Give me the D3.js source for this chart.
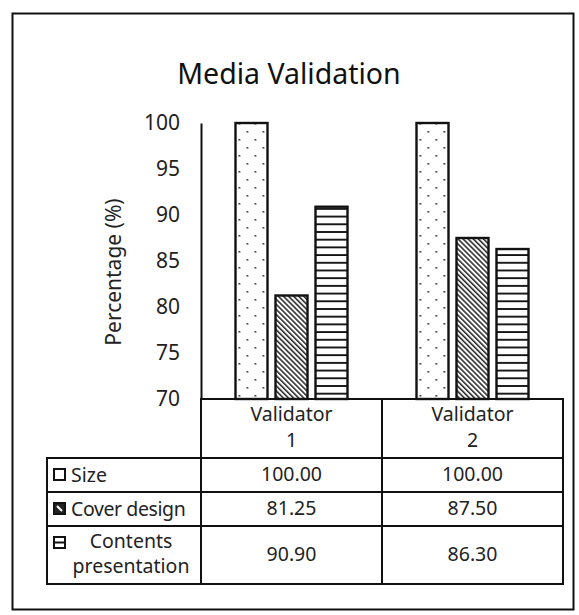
<!DOCTYPE html>
<html>
<head>
<meta charset="utf-8">
<script src="https://cdn.jsdelivr.net/npm/d3@7"></script>
<style>
  html, body { margin: 0; padding: 0; background: #fff; }
  svg { display: block; font-family: "Noto Sans", "Open Sans", sans-serif; }
</style>
</head>
<body>
<svg id="chart" width="579" height="615"></svg>
<script>
// Data
const categories = ["Validator 1", "Validator 2"];
const seriesNames = ["Size", "Cover design", "Contents presentation"];
const sizeValues = [100.00, 100.00];
const coverValues = [81.25, 87.50];
const contentsValues = [90.90, 86.30];
const yTicks = [70, 75, 80, 85, 90, 95, 100];

const seriesValues = [sizeValues, coverValues, contentsValues];
const patternIds = ["pat-dots", "pat-diag", "pat-horiz"];

const svg = d3.select("#chart");
const defs = svg.append("defs");

// Fill patterns
const dots = defs.append("pattern").attr("id", "pat-dots")
  .attr("patternUnits", "userSpaceOnUse").attr("width", 16).attr("height", 16);
dots.append("rect").attr("width", 16).attr("height", 16).attr("fill", "#fff");
dots.append("rect").attr("x", 3).attr("y", 3).attr("width", 1.6).attr("height", 1.6).attr("fill", "#222");
dots.append("rect").attr("x", 11).attr("y", 11).attr("width", 1.6).attr("height", 1.6).attr("fill", "#222");

const diag = defs.append("pattern").attr("id", "pat-diag")
  .attr("patternUnits", "userSpaceOnUse").attr("width", 3.6).attr("height", 10)
  .attr("patternTransform", "rotate(-45)");
diag.append("rect").attr("width", 3.6).attr("height", 10).attr("fill", "#fff");
diag.append("line").attr("x1", 0.8).attr("y1", 0).attr("x2", 0.8).attr("y2", 10)
  .attr("stroke", "#111").attr("stroke-width", 1.4);

const horiz = defs.append("pattern").attr("id", "pat-horiz")
  .attr("patternUnits", "userSpaceOnUse").attr("width", 10).attr("height", 7.7);
horiz.append("rect").attr("width", 10).attr("height", 7.7).attr("fill", "#fff");
horiz.append("line").attr("x1", 0).attr("y1", 1).attr("x2", 10).attr("y2", 1)
  .attr("stroke", "#111").attr("stroke-width", 1.9);

// Outer frame
svg.append("rect").attr("x", 12.5).attr("y", 13.5).attr("width", 561).attr("height", 596)
  .attr("fill", "#fff").attr("stroke", "#111").attr("stroke-width", 2);

// Title
svg.append("text").attr("x", 289).attr("y", 84).attr("text-anchor", "middle")
  .attr("font-size", 28.5).attr("fill", "#111").text("Media Validation");

// Scales
const plotLeft = 201, plotRight = 563, plotTop = 123, plotBottom = 399;
const y = d3.scaleLinear().domain([70, 100]).range([plotBottom, plotTop]);
const x0 = d3.scaleBand().domain(categories).range([plotLeft, plotRight]);
const x1 = d3.scaleBand().domain(seriesNames).range([-60, 60]).paddingInner(0.2).paddingOuter(0.1);

// Y axis
const yAxis = d3.axisLeft(y).tickValues(yTicks).tickSize(0).tickPadding(21);
const gy = svg.append("g").attr("transform", `translate(${plotLeft},0)`).call(yAxis);
gy.select(".domain").attr("stroke", "#111").attr("stroke-width", 2);
gy.selectAll("text").attr("font-size", 21).attr("fill", "#222")
  .attr("font-family", "\"Noto Sans\", sans-serif");

// Y axis title
svg.append("text")
  .attr("transform", `translate(121,272) rotate(-90)`)
  .attr("text-anchor", "middle").attr("font-size", 21).attr("fill", "#222")
  .text("Percentage (%)");

// Bars
const groups = svg.append("g").selectAll("g").data(categories).join("g")
  .attr("transform", d => `translate(${x0(d) + x0.bandwidth() / 2},0)`);
groups.selectAll("rect")
  .data((c, ci) => seriesNames.map((s, si) => ({ s, si, v: seriesValues[si][ci] })))
  .join("rect")
  .attr("x", d => x1(d.s))
  .attr("y", d => y(d.v))
  .attr("width", x1.bandwidth())
  .attr("height", d => y(70) - y(d.v))
  .attr("fill", d => `url(#${patternIds[d.si]})`)
  .attr("stroke", "#111").attr("stroke-width", 2.4);

// Data table
const tableLeft = 47;
const rowEdges = [399, 458, 492, 526, 584];
const tbl = svg.append("g").attr("stroke", "#111").attr("stroke-width", 2).attr("fill", "none");
// x axis line / top of header
tbl.append("line").attr("x1", plotLeft - 1).attr("x2", plotRight + 1).attr("y1", rowEdges[0]).attr("y2", rowEdges[0]);
rowEdges.slice(1).forEach(yy => {
  tbl.append("line").attr("x1", tableLeft - 1).attr("x2", plotRight + 1).attr("y1", yy).attr("y2", yy);
});
[plotLeft, x0(categories[1]), plotRight].forEach(xx => {
  tbl.append("line").attr("x1", xx).attr("x2", xx).attr("y1", rowEdges[0]).attr("y2", rowEdges[4]);
});
tbl.append("line").attr("x1", tableLeft).attr("x2", tableLeft).attr("y1", rowEdges[1]).attr("y2", rowEdges[4]);

const textColor = "#222";
const cellFont = 19.5;

// Header cells
categories.forEach(c => {
  const cx = x0(c) + x0.bandwidth() / 2;
  const parts = c.split(" ");
  const t = svg.append("text").attr("text-anchor", "middle").attr("font-size", cellFont).attr("fill", textColor);
  t.append("tspan").attr("x", cx).attr("y", 421).text(parts[0]);
  t.append("tspan").attr("x", cx).attr("y", 447).text(parts[1]);
});

// Value cells
seriesNames.forEach((s, si) => {
  const yc = (rowEdges[si + 1] + rowEdges[si + 2]) / 2;
  categories.forEach((c, ci) => {
    svg.append("text").attr("x", x0(c) + x0.bandwidth() / 2).attr("y", yc + 6)
      .attr("text-anchor", "middle").attr("font-size", cellFont).attr("fill", textColor)
      .text(seriesValues[si][ci].toFixed(2));
  });
});

// Legend keys in the row header column
const keyX = 54, keySize = 11;
function drawKey(si, ky) {
  const g = svg.append("g");
  if (si === 0) {
    g.append("rect").attr("x", keyX).attr("y", ky).attr("width", keySize).attr("height", keySize)
      .attr("fill", "#fff").attr("stroke", "#111").attr("stroke-width", 2);
  } else if (si === 1) {
    g.append("rect").attr("x", keyX).attr("y", ky).attr("width", keySize).attr("height", keySize)
      .attr("fill", "#222").attr("stroke", "#111").attr("stroke-width", 2);
    g.append("line").attr("x1", keyX + 3).attr("y1", ky + 3).attr("x2", keyX + 8).attr("y2", ky + 8)
      .attr("stroke", "#fff").attr("stroke-width", 2);
  } else {
    g.append("rect").attr("x", keyX).attr("y", ky).attr("width", keySize).attr("height", keySize)
      .attr("fill", "#fff").attr("stroke", "#111").attr("stroke-width", 2);
    g.append("line").attr("x1", keyX).attr("y1", ky + keySize / 2).attr("x2", keyX + keySize).attr("y2", ky + keySize / 2)
      .attr("stroke", "#111").attr("stroke-width", 2);
  }
}

// Size
drawKey(0, 469);
svg.append("text").attr("x", 71).attr("y", 482).attr("font-size", cellFont).attr("fill", textColor).text(seriesNames[0]);
// Cover design
drawKey(1, 503);
svg.append("text").attr("x", 71).attr("y", 516).attr("font-size", cellFont).attr("fill", textColor)
  .attr("letter-spacing", -0.4).text(seriesNames[1]);
// Contents presentation (two lines, centred beside the key)
drawKey(2, 537);
const ct = svg.append("text").attr("text-anchor", "middle").attr("font-size", cellFont).attr("fill", textColor);
ct.append("tspan").attr("x", 131).attr("y", 548).text("Contents");
ct.append("tspan").attr("x", 131).attr("y", 573).text("presentation");
</script>
</body>
</html>
